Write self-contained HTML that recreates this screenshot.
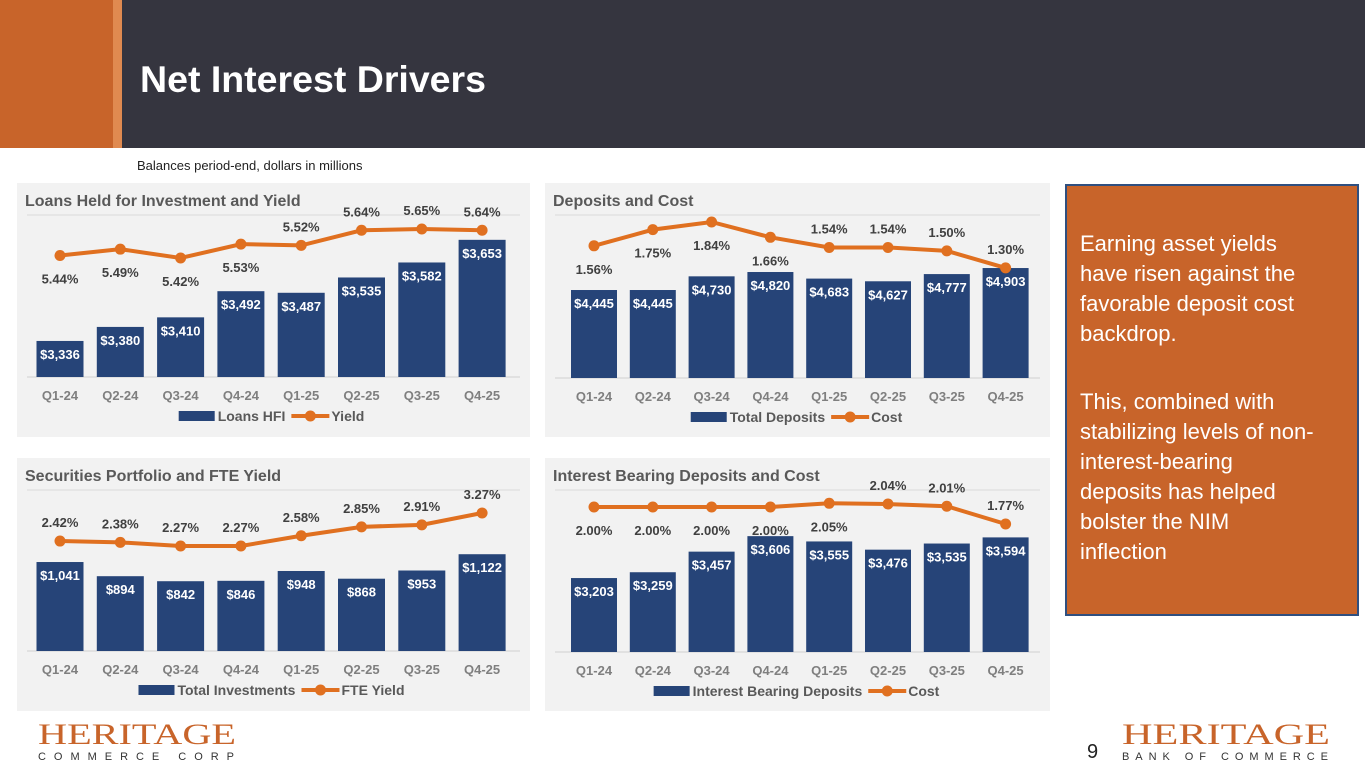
<!DOCTYPE html>
<html><head><meta charset="utf-8"><style>
body{margin:0;width:1365px;height:768px;overflow:hidden;background:#fff;font-family:"Liberation Sans",sans-serif}
svg{display:block}
</style></head><body>
<svg id="s" width="1365" height="768" viewBox="0 0 1365 768">
<rect x="0" y="0" width="1365" height="148" fill="#35353f"/>
<rect x="0" y="0" width="113" height="148" fill="#c8642a"/>
<rect x="113" y="0" width="9" height="148" fill="#e08a50"/>
<text x="140" y="92" font-size="37" font-weight="bold" fill="#fff" textLength="346" lengthAdjust="spacingAndGlyphs">Net Interest Drivers</text>
<text x="137" y="170" font-size="13" fill="#222" font-family="Liberation Sans">Balances period-end, dollars in millions</text>
<rect x="1066" y="185" width="292" height="430" fill="#c8642a" stroke="#2f4f7f" stroke-width="2"/>
<g font-size="22" fill="#fff">
<text x="1080" y="251">Earning asset yields</text>
<text x="1080" y="281">have risen against the</text>
<text x="1080" y="311">favorable deposit cost</text>
<text x="1080" y="341">backdrop.</text>
<text x="1080" y="409">This, combined with</text>
<text x="1080" y="439">stabilizing levels of non-</text>
<text x="1080" y="469">interest-bearing</text>
<text x="1080" y="499">deposits has helped</text>
<text x="1080" y="529">bolster the NIM</text>
<text x="1080" y="559">inflection</text>
</g>
<g>
<text x="38" y="744" font-family="Liberation Serif" font-size="30" fill="#c8642a" textLength="198" lengthAdjust="spacingAndGlyphs">HERITAGE</text>
<text x="38" y="760" font-size="11" fill="#333" textLength="196">COMMERCE CORP</text>
</g>
<g>
<text x="1122" y="744" font-family="Liberation Serif" font-size="30" fill="#c8642a" textLength="208" lengthAdjust="spacingAndGlyphs">HERITAGE</text>
<text x="1122" y="760" font-size="11" fill="#333" textLength="206">BANK OF COMMERCE</text>
</g>
<text x="1087" y="758" font-size="20" fill="#222">9</text>
</svg>
<script>
const quarters=["Q1-24","Q2-24","Q3-24","Q4-24","Q1-25","Q2-25","Q3-25","Q4-25"];
const loansHFI=[3336,3380,3410,3492,3487,3535,3582,3653];
const loanYield=[5.44,5.49,5.42,5.53,5.52,5.64,5.65,5.64];
const deposits=[4445,4445,4730,4820,4683,4627,4777,4903];
const depositCost=[1.56,1.75,1.84,1.66,1.54,1.54,1.50,1.30];
const investments=[1041,894,842,846,948,868,953,1122];
const fteYield=[2.42,2.38,2.27,2.27,2.58,2.85,2.91,3.27];
const ibDeposits=[3203,3259,3457,3606,3555,3476,3535,3594];
const ibCost=[2.00,2.00,2.00,2.00,2.05,2.04,2.01,1.77];
const NS="http://www.w3.org/2000/svg";
const svg=document.getElementById('s');
function mk(t,a,p){const e=document.createElementNS(NS,t);for(const k in a)e.setAttribute(k,a[k]);(p||svg).appendChild(e);return e;}
const fmt=v=>"$"+v.toLocaleString("en-US");
const charts=[
 {name:"loans",title:"Loans Held for Investment and Yield",px:17,py:183,w:513,h:254,x0:60,dx:60.3,bw:47,base:377,bmin:3223,bk:0.319,ly0:258,lv0:5.42,lk:126,bars:loansHFI,line:loanYield,pos:"bbbbaaaa",leg:["Loans HFI","Yield"],legX:273},
 {name:"deposits",title:"Deposits and Cost",px:545,py:183,w:505,h:254,x0:594,dx:58.8,bw:46,base:378,bmin:2612,bk:0.048,ly0:222,lv0:1.84,lk:85,bars:deposits,line:depositCost,pos:"bbbbaaaa",leg:["Total Deposits","Cost"],legX:798},
 {name:"securities",title:"Securities Portfolio and FTE Yield",px:17,py:458,w:513,h:253,x0:60,dx:60.3,bw:47,base:651,bmin:118,bk:0.0964,ly0:546,lv0:2.27,lk:33,bars:investments,line:fteYield,pos:"aaaaaaaa",leg:["Total Investments","FTE Yield"],legX:273},
 {name:"ib-deposits",title:"Interest Bearing Deposits and Cost",px:545,py:458,w:505,h:253,x0:594,dx:58.8,bw:46,base:652,bmin:2492,bk:0.104,ly0:507,lv0:2.00,lk:74,bars:ibDeposits,line:ibCost,pos:"bbbbbaaa",leg:["Interest Bearing Deposits","Cost"],legX:798}
];
charts.forEach(c=>{
 const g=mk('g',{});
 
 
 const bg=mk('rect',{x:c.px,y:c.py,width:c.w,height:c.h,fill:'#f2f2f2'},g);
 
 
 const t=mk('text',{x:c.px+8,y:c.py+23,'font-size':16,'font-weight':'bold',fill:'#595959'},g);
 t.textContent=c.title;
 
 
 mk('line',{x1:c.px+10,x2:c.px+c.w-10,y1:c.py+32,y2:c.py+32,stroke:'#d9d9d9'},g);
 mk('line',{x1:c.px+10,x2:c.px+c.w-10,y1:c.base,y2:c.base,stroke:'#d0d0d0'},g);
 const X=i=>c.x0+i*c.dx;
 const YB=v=>c.base-(v-c.bmin)*c.bk;
 const YL=v=>c.ly0-(v-c.lv0)*c.lk;
 c.bars.forEach((v,i)=>{
  const y=YB(v);
  const r=mk('rect',{x:X(i)-c.bw/2,y:y,width:c.bw,height:c.base-y,fill:'#264478'},g);
  
  
  const l=mk('text',{x:X(i),y:y+18,'font-size':13,'font-weight':'bold',fill:'#fff','text-anchor':'middle'},g);
  l.textContent=fmt(v);
  
  
  const q=mk('text',{x:X(i),y:c.base+23,'font-size':13,'font-weight':'bold',fill:'#7f7f7f','text-anchor':'middle'},g);
  q.textContent=quarters[i];
  
  
 });
 const p=mk('polyline',{points:c.line.map((v,i)=>X(i)+','+YL(v)).join(' '),fill:'none',stroke:'#e07020','stroke-width':4},g);
 
 
 c.line.forEach((v,i)=>{
  const d=mk('circle',{cx:X(i),cy:YL(v),r:5.5,fill:'#e07020'},g);
  
  
  const above=c.pos[i]==='a';
  const l=mk('text',{x:X(i),y:above?YL(v)-14:YL(v)+28,'font-size':13,'font-weight':'bold',fill:'#404040','text-anchor':'middle'},g);
  l.textContent=v.toFixed(2)+'%';
  
  
 });
 const ly=c.base+39;
 const lg=mk('g',{},g);
 
 
 const t1=mk('text',{y:ly+5,'font-size':14,'font-weight':'bold',fill:'#595959'},lg);
 t1.textContent=c.leg[0];
 const t2=mk('text',{y:ly+5,'font-size':14,'font-weight':'bold',fill:'#595959'},lg);
 t2.textContent=c.leg[1];
 const w1=t1.getComputedTextLength(),w2=t2.getComputedTextLength();
 const total=38+w1+8+42+w2;
 let x=c.legX-total/2;
 mk('rect',{x:x,y:ly-5,width:36,height:10,fill:'#264478'},lg);
 t1.setAttribute('x',x+39);
 x+=39+w1+6;
 mk('line',{x1:x,x2:x+38,y1:ly,y2:ly,stroke:'#e07020','stroke-width':4},lg);
 mk('circle',{cx:x+19,cy:ly,r:5.5,fill:'#e07020'},lg);
 t2.setAttribute('x',x+40);
});
</script>
</body></html>
